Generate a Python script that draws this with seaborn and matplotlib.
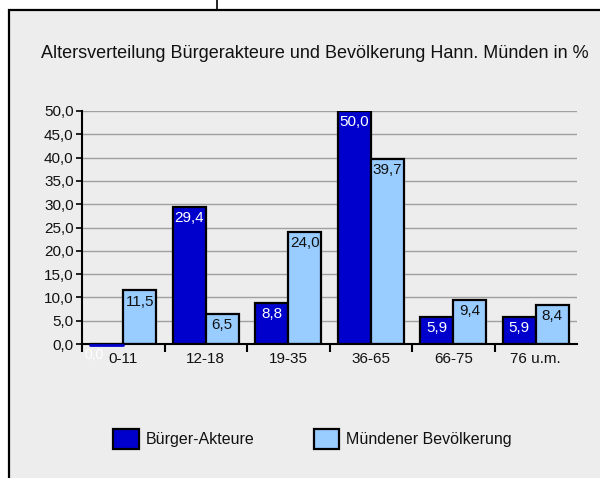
import matplotlib
matplotlib.use("Agg")
import matplotlib.pyplot as plt
import seaborn as sns
import pandas as pd
from matplotlib.patches import Rectangle
from matplotlib.lines import Line2D
from matplotlib.ticker import FuncFormatter, FixedLocator

categories = ['0-11', '12-18', '19-35', '36-65', '66-75', '76 u.m.']
buerger = [0.0, 29.4, 8.8, 50.0, 5.9, 5.9]
bevoelkerung = [11.5, 6.5, 24.0, 39.7, 9.4, 8.4]
series_names = ['Bürger-Akteure', 'Mündener Bevölkerung']
yticks = [0, 5, 10, 15, 20, 25, 30, 35, 40, 45, 50]
title = 'Altersverteilung Bürgerakteure und Bevölkerung Hann. Münden in %'

df = pd.DataFrame({
    'Alter': categories * 2,
    'Wert': buerger + bevoelkerung,
    'Gruppe': [series_names[0]] * len(categories) + [series_names[1]] * len(categories),
})

sns.set_theme(style='white')
plt.rcParams['font.family'] = ['Liberation Sans', 'DejaVu Sans']

W, H = 600, 478
fig = plt.figure(figsize=(W / 100, H / 100), dpi=100, facecolor='white')

bg = '#ededed'
# panel box
fig.patches.append(Rectangle((9 / W, -0.05), 1.2, (H - 10) / H + 0.05, transform=fig.transFigure,
                             facecolor=bg, edgecolor='black', lw=1.6, zorder=-5))
fig.lines.append(Line2D([217 / W, 217 / W], [(H - 10) / H, 1.0], transform=fig.transFigure,
                        color='black', lw=1.2, zorder=-4))

ax = fig.add_axes([82 / W, (H - 344) / H, (577 - 82) / W, (344 - 111) / H])
ax.set_facecolor('none')

palette = {series_names[0]: '#0000cc', series_names[1]: '#99ccff'}
sns.barplot(data=df, x='Alter', y='Wert', hue='Gruppe', order=categories,
            hue_order=series_names, palette=palette, width=0.8, gap=0,
            edgecolor='black', linewidth=1.6, saturation=1, ax=ax, legend=True)

ax.set_ylim(0, 50)
ax.set_xlim(-0.5, 5.5)
ax.set_yticks(yticks)
ax.yaxis.set_major_formatter(FuncFormatter(lambda v, p: f'{v:.1f}'.replace('.', ',')))
ax.grid(axis='y', color='#a0a0a0', lw=1)
ax.set_axisbelow(True)
for s in ['top', 'right']:
    ax.spines[s].set_visible(False)
for s in ['left', 'bottom']:
    ax.spines[s].set_color('black')
    ax.spines[s].set_linewidth(1.5)
ax.tick_params(axis='y', left=True, length=4, width=1.2, color='black', labelsize=11,
               labelcolor='#111111', pad=2)
ax.tick_params(axis='x', which='major', length=0, labelsize=11, labelcolor='#111111', pad=6)
ax.xaxis.set_minor_locator(FixedLocator([-0.5, 0.5, 1.5, 2.5, 3.5, 4.5]))
ax.tick_params(axis='x', which='minor', bottom=True, length=6, width=1.5, color='black')
ax.set_xlabel('')
ax.set_ylabel('')

# zero-height bar: thin blue line along the base
for b in ax.containers[0]:
    if b.get_height() == 0:
        ax.plot([b.get_x(), b.get_x() + b.get_width()], [-0.15, -0.15], color='#0000cc',
                lw=2, clip_on=False, zorder=5)

label_colors = ['white', '#111111']
for cont, col in zip(ax.containers, label_colors):
    for b in cont:
        h = b.get_height()
        if h == 0:
            # label of the empty bar sits (barely visible) under the axis, left of the tick label
            ax.annotate(f'{h:.1f}'.replace('.', ','), (b.get_x() + b.get_width() / 2, h),
                        xytext=(-2.5, -3), textcoords='offset points', ha='right', va='top',
                        color=col, fontsize=10, annotation_clip=False, zorder=1)
        else:
            ax.annotate(f'{h:.1f}'.replace('.', ','), (b.get_x() + b.get_width() / 2, h),
                        xytext=(0, -3), textcoords='offset points', ha='center', va='top',
                        color=col, fontsize=11, annotation_clip=False, zorder=6)

handles, labels = ax.get_legend_handles_labels()
ax.get_legend().remove()
fig.legend(handles, labels, loc='center left', bbox_to_anchor=(105 / W, (H - 439) / H),
           ncol=2, frameon=False, fontsize=11.5, handlelength=1.6, handleheight=1.6,
           handletextpad=0.45, columnspacing=3.7, borderpad=0, labelcolor='#111111')

fig.text(315 / W, (H - 53) / H, title, ha='center', va='center', fontsize=13, color='#111111')

fig.savefig('out.png', dpi=100, facecolor='white')
